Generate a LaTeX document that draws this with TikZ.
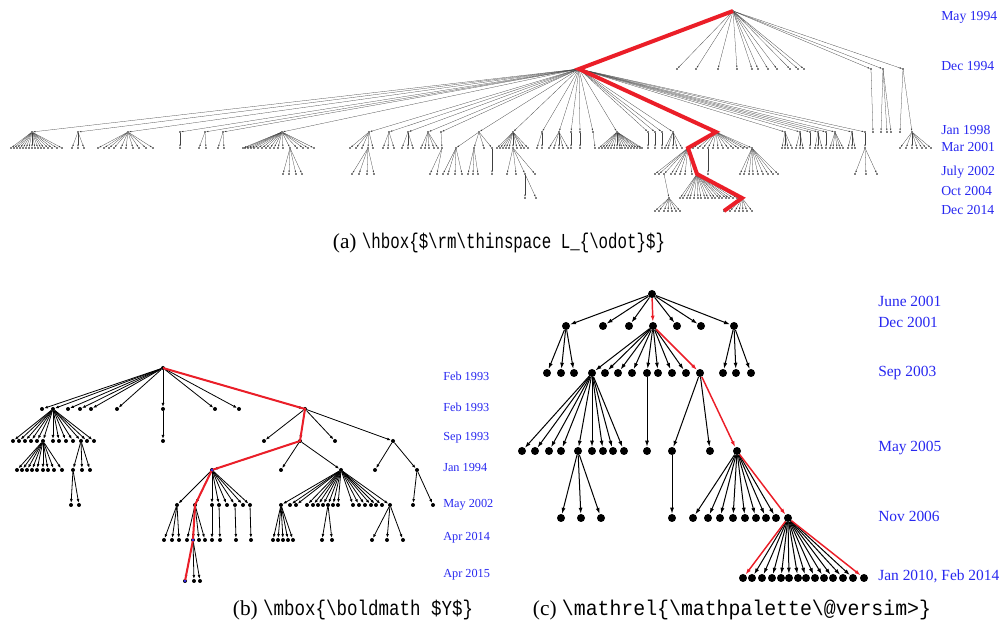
\documentclass[tikz,border=0pt]{standalone}
\usepackage{fontspec}
\usepackage{graphicx}
\setmainfont{Liberation Serif}
\setmonofont{Liberation Mono}
\usetikzlibrary{arrows.meta}
\definecolor{lblue}{RGB}{40,40,240}
\definecolor{pathred}{RGB}{235,30,40}
\tikzset{
  adot/.style={circle,fill=black,inner sep=0pt,minimum size=1.4pt},
  aedge/.style={draw=black!75,line width=0.2pt,-{Latex[length=1.6pt,width=1.1pt]}},
  bdot/.style={circle,fill=black,inner sep=0pt,minimum size=3pt},
  bedge/.style={draw=black,line width=0.6pt,-{Latex[length=2.8pt,width=2.2pt]}},
  cdot/.style={circle,fill=black,inner sep=0pt,minimum size=6pt},
  cedge/.style={draw=black,line width=0.75pt,-{Latex[length=4.5pt,width=3pt]}},
  credge/.style={draw=pathred,line width=1.1pt},
  ared/.style={draw=pathred,line width=3pt},
  bred/.style={draw=pathred,line width=1.5pt},
  bmark/.style={circle,fill=lblue,inner sep=0pt,minimum size=2pt},
  alabel/.style={anchor=west,text=lblue,font=\fontsize{10.3}{12}\selectfont,inner sep=0pt},
  blabel/.style={anchor=west,text=lblue,font=\fontsize{9.2}{11}\selectfont,inner sep=0pt},
  clabel/.style={anchor=west,text=lblue,font=\fontsize{11.6}{13}\selectfont,inner sep=0pt},
  caption/.style={anchor=center,font=\fontsize{16}{18}\selectfont,inner sep=0pt},
}
\newcommand\kids[5]{\foreach \xx in {#4}{\node[#1dot] (#1-\xx-#3) at (\xx,#3) {};\draw[#1edge,#5] (#2) -- (#1-\xx-#3);}}
\begin{document}
\begin{tikzpicture}[x=0.75pt,y=-0.75pt]
\useasboundingbox (0,0) rectangle (1001,630);
% ================= panel (a)
\node[adot] (a-733-11) at (733,11) {};
\kids{a}{a-733-11}{69}{579,677,696,718,737,752,758,768,777,790,798,804,871,883,903}{}
\kids{a}{a-871-69}{132}{873}{}
\kids{a}{a-883-69}{132}{881,887,891}{}
\kids{a}{a-903-69}{132}{900,912}{}
\kids{a}{a-912-132}{148}{900,906,912,917,922,926,931}{}
\kids{a}{a-579-69}{132}{32,78,128,180,205,223,282,369,389,408,428,441,479,513,542,559,571,580,593,617,648,655,662,673,716,785,800,810,818,826,835,852,865}{}
\kids{a}{a-32-132}{148}{11,14,17,20,23,26,29,32,35,38,41,44,48,52,57,62}{}
\kids{a}{a-78-132}{148}{72,78,84}{}
\kids{a}{a-128-132}{148}{98,104,109,114,121,126,133,139,146,153}{}
\kids{a}{a-180-132}{148}{180}{}
\kids{a}{a-205-132}{148}{199,206}{}
\kids{a}{a-223-132}{148}{218,224}{}
\kids{a}{a-282-132}{148}{243,245,248,251,254,258,262,266,270,274,278,283,290,297,303,308,314}{}
\kids{a}{a-290-148}{174}{283,289,296,302}{}
\kids{a}{a-369-132}{148}{350,356,362,368,373}{}
\kids{a}{a-368-148}{174}{352,359,367,374}{}
\kids{a}{a-389-132}{148}{383,388,394}{}
\kids{a}{a-408-132}{148}{402,408,413}{}
\kids{a}{a-428-132}{148}{421,425,429,434,438}{}
\kids{a}{a-441-132}{148}{442}{}
\kids{a}{a-442-148}{174}{430,437}{}
\kids{a}{a-479-132}{148}{456,474,484,492}{}
\kids{a}{a-456-148}{174}{443,448,455,462}{}
\kids{a}{a-474-148}{174}{468,473,478}{}
\kids{a}{a-492-148}{174}{492}{}
\kids{a}{a-513-132}{148}{497,500,503,506,509,513,517,521,524,528}{}
\kids{a}{a-513-148}{174}{507,516,525,535}{}
\kids{a}{a-525-174}{198}{525,536}{}
\kids{a}{a-542-132}{148}{537,542}{}
\kids{a}{a-559-132}{148}{549,554,559,563,568}{}
\kids{a}{a-571-132}{148}{571}{}
\kids{a}{a-580-132}{148}{580}{}
\kids{a}{a-593-132}{148}{595}{}
\kids{a}{a-617-132}{148}{599,602,605,608,611,614,617,620,622,625,628,631,634,637,640,642}{}
\kids{a}{a-648-132}{148}{648}{}
\kids{a}{a-655-132}{148}{655}{}
\kids{a}{a-662-132}{148}{662}{}
\kids{a}{a-673-132}{148}{665,668,673,677,682}{}
\kids{a}{a-716-132}{148}{688,693,698,703,708,713,718,723,728,733,738,743,747,752}{}
\kids{a}{a-708-148}{174}{708}{}
\kids{a}{a-752-148}{174}{740,744,749,753,758,763,768,773,778}{}
\kids{a}{a-688-148}{174}{655,659,664,671,675,680,685,692,697}{}
\kids{a}{a-664-174}{198}{669}{}
\kids{a}{a-669-198}{211}{655,659,664,668,672,676,680}{}
\kids{a}{a-697-174}{198}{680,683,687,690,694,698,701,705,708,712,715,719,722,726,729,733,737,742}{}
\kids{a}{a-742-198}{211}{724,730,735,739,743,747,752}{}
\kids{a}{a-785-132}{148}{782,785,788,792}{}
\kids{a}{a-800-132}{148}{796,800,803}{}
\kids{a}{a-810-132}{148}{810}{}
\kids{a}{a-818-132}{148}{815,818,822}{}
\kids{a}{a-826-132}{148}{826}{}
\kids{a}{a-835-132}{148}{830,833,837,840,843}{}
\kids{a}{a-852-132}{148}{848,852,855}{}
\kids{a}{a-865-132}{148}{865}{}
\kids{a}{a-865-148}{174}{855,866,877}{}
\draw[ared] (a-733-11.center) -- (a-579-69.center) -- (a-716-132.center) -- (a-688-148.center) -- (a-697-174.center) -- (a-742-198.center) -- (a-724-211.center);
\node[alabel] (la1) at (941,17) {May 1994};
\node[alabel] (la2) at (941,66) {Dec 1994};
\node[alabel] (la3) at (941,130) {Jan 1998};
\node[alabel] (la4) at (941,147) {Mar 2001};
\node[alabel] (la5) at (941,172) {July 2002};
\node[alabel] (la6) at (941,191) {Oct 2004};
\node[alabel] (la7) at (941,210) {Dec 2014};
\node[caption] (capa) at (499,243) {(a) \scalebox{0.74}[1]{\ttfamily\textbackslash hbox\{\$\textbackslash rm\textbackslash thinspace L\_\{\textbackslash odot\}\$\}}};
% ================= panel (b)
\node[bdot] (b-163-368) at (163,368) {};
\kids{b}{b-163-368}{409}{42,53,68,80,91,117,163,215,239,305}{}
\kids{b}{b-163-409}{441}{163}{}
\kids{b}{b-53-409}{441}{13,19,25,31,37,43,53,59,66,73,81,87,94}{}
\kids{b}{b-43-441}{470}{17,22,27,32,37,43,48,54,62}{}
\kids{b}{b-81-441}{470}{73,82,90}{}
\kids{b}{b-73-470}{505}{71,79}{}
\kids{b}{b-305-409}{441}{264,300,335,393}{}
\kids{b}{b-300-441}{470}{212,281,341}{}
\kids{b}{b-393-441}{470}{375,417}{}
\kids{b}{b-417-470}{505}{413,433}{}
\kids{b}{b-212-470}{505}{177,195,212,219,227,235,243,250}{}
\kids{b}{b-177-505}{540}{164,172,179}{}
\kids{b}{b-195-505}{540}{187,193,199,205}{}
\kids{b}{b-193-540}{581}{185,194,200}{}
\kids{b}{b-212-505}{540}{212}{}
\kids{b}{b-219-505}{540}{220}{}
\kids{b}{b-235-505}{540}{236}{}
\kids{b}{b-250-505}{540}{251}{}
\kids{b}{b-341-470}{505}{281,290,296,307,313,318,323,328,333,338,353,359,365,371,376,382,390}{}
\kids{b}{b-281-505}{540}{273,278,283,288,293}{}
\kids{b}{b-328-505}{540}{322,332}{}
\kids{b}{b-390-505}{540}{372,387,403}{}
\draw[bred] (b-163-368.center) -- (b-305-409.center) -- (b-300-441.center) -- (b-212-470.center) -- (b-195-505.center) -- (b-193-540.center) -- (b-185-581.center);
\node[bmark] (bm1) at (b-212-470) {};
\node[bmark] (bm2) at (b-193-540) {};
\node[bmark] (bm3) at (b-185-581) {};
\node[blabel] (lb1) at (443,376) {Feb 1993};
\node[blabel] (lb2) at (443,407) {Feb 1993};
\node[blabel] (lb3) at (443,438) {Sep 1993};
\node[blabel] (lb4) at (443,468) {Jan 1994};
\node[blabel] (lb5) at (443,505) {May 2002};
\node[blabel] (lb6) at (443,538) {Apr 2014};
\node[blabel] (lb7) at (443,575) {Apr 2015};
\node[caption] (capb) at (353,610) {(b) \scalebox{0.82}[1]{\ttfamily\textbackslash mbox\{\textbackslash boldmath \$Y\$\}}};
% ================= panel (c)
\node[cdot] (c-652-294) at (652,294) {};
\kids{c}{c-652-294}{326}{566,603,629,677,701,734}{}
\kids{c}{c-652-294}{326}{653}{credge}
\kids{c}{c-566-326}{373}{547,561,574}{}
\kids{c}{c-653-326}{373}{592,605,618,632,647,658,672,686}{}
\kids{c}{c-653-326}{373}{700}{credge}
\kids{c}{c-734-326}{373}{723,736,751}{}
\kids{c}{c-592-373}{451}{522,535,549,561,578,592,603,613,624}{}
\kids{c}{c-647-373}{451}{647}{}
\kids{c}{c-700-373}{451}{672,710}{}
\kids{c}{c-700-373}{451}{737}{credge}
\kids{c}{c-578-451}{518}{561,581,601}{}
\kids{c}{c-672-451}{518}{672}{}
\kids{c}{c-737-451}{518}{693,708,720,733,745,756,766,776}{}
\kids{c}{c-737-451}{518}{788}{credge}
\kids{c}{c-788-518}{578}{752,762,772,781,789,798,806,815,824,833,843,853}{}
\kids{c}{c-788-518}{578}{743,864}{credge}
\node[clabel] (lc1) at (878,301) {June 2001};
\node[clabel] (lc2) at (878,322) {Dec 2001};
\node[clabel] (lc3) at (878,373) {Sep 2003};
\node[clabel] (lc4) at (878,448) {May 2005};
\node[clabel] (lc5) at (878,516) {Nov 2006};
\node[clabel] (lc6) at (878,576) {Jan 2010, Feb 2014};
\node[caption] (capc) at (732,610) {(c) \scalebox{0.93}[1]{\ttfamily\textbackslash mathrel\{\textbackslash mathpalette\textbackslash @versim>\}}};
\end{tikzpicture}
\end{document}
